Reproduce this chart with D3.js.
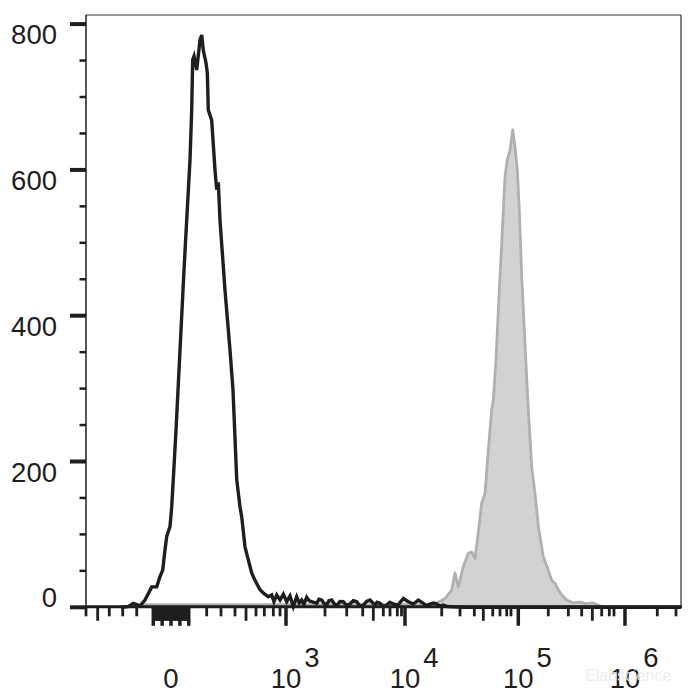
<!DOCTYPE html>
<html><head><meta charset="utf-8">
<script src="https://cdn.jsdelivr.net/npm/d3@7"></script>
<style>body{margin:0;background:#fff}</style>
</head><body>
<svg id="chart" width="700" height="700"></svg>
<script>
// ---- Data (x in display channels 0..1024 of the biexponential axis, y in counts) ----
const blackChannel = [60,72.3,81.4,92.9,101.5,113.1,121.7,127.4,132.0,136.0,138.9,144.6,147.5,150.2,154.9,161.8,168.7,173.3,179.0,181.9,183.6,185.9,190.5,196.2,199.1,201.9,206.5,208.8,210.5,216.3,222.0,224.9,227.7,230.6,239.2,247.8,253.0,259.4,265.0,268.0,273.6,279.3,285.2,290.8,299.5,306,313.7,319.6,323.5,328.2,333.9,339.6,345.4,351.1,356.8,362.6,367,371.2,375,379.8,384,388.4,397.0,401,405.6,409,414.3,418,422.9,427,431.5,437,442.8,448,454.3,460,465.9,471,477.2,483,488.8,497.4,501,506.0,512,517.5,523,528.9,537,546.1,554.8,563.3,571.9,580.5,586,592.0,598,603.6,609,614.9,621.3,650,1024];
const blackCount   = [0,1,5.5,2,10,28,28,42,51,79,97,111,138,175,243,353,463,531,614,682,751,756,737,778,785,764,747,733,682,668,600,573,583,531,435,353,298,175,138,124,83,65,47,37,24,19,14.5,17,7.7,17,10,18,7.7,15.5,1,14.5,6,10,4,13.7,9,7.7,5.5,11,10,6,3,9,10,5,2,8,7.7,3,4.5,9,7.7,2,3,8,10,3,7,5.5,1,3,7,4.5,3,12,7.7,4.5,10,5.5,2,4.5,6,4.5,1.5,3,1,0,0];

const grayChannel = [92.9,200,400,590,603.6,617.8,629.4,635.1,640.7,649.3,658.0,663.8,669.5,675.1,681.0,686.7,692.4,698.2,701.0,705.6,709.6,715.4,721.1,725.1,729.7,734.4,738.3,742.3,745.7,749.9,755.5,761.2,767.1,772.8,778.5,787.1,795.7,801.5,807.2,812.9,818.7,827.3,838.7,850.2,860.5,873.1,884.6,900];
const grayCount   = [3.5,3.5,3.5,3.5,5.5,12,24,47,28,56,74,76,67,102,143,156,216,271,284,339,408,499,591,614,627,655,632,600,545,453,362,271,193,156,111,69,51,37,33,24,17,10,6,7,5,6,2,0];

const yMajorTicks = [0,200,400,600,800];
const yTickLabels = ["0","200","400","600","800"];
const yMinorTicks = [50,100,150,250,300,350,450,500,550,650,700,750];

const xLabelTicks = [146.3,344.2,549.0,744.0,927.6];
const xLabelBase  = ["0","10","10","10","10"];
const xLabelExp   = ["","3","4","5","6"];
const xTicksLong   = [115.8,131.05,146.3,161.55,176.8,344.2,549.0,744.0,927.6];
const xTicksMedium = [20.1,118.85,121.9,124.95,128.0,134.1,137.15,140.2,143.25,149.35,152.4,155.45,158.5,164.6,167.65,170.7,173.75,275.4,494.5,683.8,871.4];
const xTicksShort  = [0,40.1,63.2,87.3,207.7,232.3,256.4,292.6,306.9,322.4,333.9,411.3,448.7,476.2,511.7,523.2,535.8,543,612.2,643.7,668.3,700.0,712.5,724.1,731.4,795.6,830.1,853.1,887.5,900.6,908.7,983.2,1015.4];

// ---- Layout ----
const svg = d3.select("#chart");
const plotL = 86, plotR = 681, plotT = 15, plotB = 607.3;
const x = d3.scaleLinear().domain([0,1024]).range([plotL,plotR]);
const y = d3.scaleLinear().domain([0,812.5]).range([plotB,plotT]);
const font = "'Liberation Sans', Arial, Helvetica, sans-serif";
const ink = "#1e1e1e";

svg.append("rect").attr("width",700).attr("height",700).attr("fill","#fff");

// gray filled histogram
const grayData = grayChannel.map((c,i)=>[c,grayCount[i]]);
svg.append("path").datum(grayData)
  .attr("d", d3.area().x(d=>x(d[0])).y0(y(0)).y1(d=>y(d[1])))
  .attr("fill","#d2d2d2");
svg.append("path").datum(grayData)
  .attr("d", d3.line().x(d=>x(d[0])).y(d=>y(d[1])))
  .attr("fill","none").attr("stroke","#b0b0b0").attr("stroke-width",2.8).attr("stroke-linejoin","round");

// black line histogram
const blackData = blackChannel.map((c,i)=>[c,blackCount[i]]);
svg.append("path").datum(blackData)
  .attr("d", d3.line().x(d=>x(d[0])).y(d=>y(d[1])))
  .attr("fill","none").attr("stroke",ink).attr("stroke-width",3.4).attr("stroke-linejoin","miter");

// frame
svg.append("line").attr("x1",plotL).attr("x2",plotR).attr("y1",plotT).attr("y2",plotT).attr("stroke","#333").attr("stroke-width",1);
svg.append("line").attr("x1",plotR).attr("x2",plotR).attr("y1",plotT).attr("y2",plotB).attr("stroke","#333").attr("stroke-width",1.2);
svg.append("line").attr("x1",plotL).attr("x2",plotL).attr("y1",plotT).attr("y2",plotB).attr("stroke",ink).attr("stroke-width",1.5);
svg.append("line").attr("x1",plotL).attr("x2",plotR+1).attr("y1",plotB-0.6).attr("y2",plotB-0.6).attr("stroke",ink).attr("stroke-width",3);

// y ticks
const gy = svg.append("g");
gy.selectAll(".ymaj").data(yMajorTicks).enter().append("line")
  .attr("x1",70).attr("x2",plotL).attr("y1",d=>y(d)).attr("y2",d=>y(d))
  .attr("stroke",ink).attr("stroke-width",4);
gy.selectAll(".ymin").data(yMinorTicks).enter().append("line")
  .attr("x1",79.5).attr("x2",plotL).attr("y1",d=>y(d)).attr("y2",d=>y(d))
  .attr("stroke",ink).attr("stroke-width",2.5);
gy.selectAll(".ylab").data(yMajorTicks).enter().append("text")
  .attr("x",57).attr("y",d=>d===0 ? y(d) : y(d)+20)
  .attr("text-anchor","end").attr("font-family",font).attr("font-size",27.5)
  .attr("fill",ink).text((d,i)=>yTickLabels[i]);

// x ticks
const axisY = plotB - 0.5;
const gx = svg.append("g");
function drawTicks(vals, len, w){
  gx.selectAll(null).data(vals).enter().append("line")
    .attr("x1",d=>x(d)).attr("x2",d=>x(d)).attr("y1",axisY).attr("y2",axisY+len)
    .attr("stroke",ink).attr("stroke-width",w);
}
drawTicks(xTicksShort, 9.5, 2.8);
drawTicks(xTicksMedium, 14, 2.8);
drawTicks(xTicksLong, 19, 3.5);

// x labels
xLabelTicks.forEach((t,i)=>{
  const tx = gx.append("text").attr("x",x(t)).attr("y",688)
    .attr("text-anchor","middle").attr("font-family",font).attr("font-size",27.5)
    .attr("fill",ink).text(xLabelBase[i]);
  if(xLabelExp[i]){
    const bb = tx.node().getBBox();
    gx.append("text").attr("x",bb.x+bb.width+3).attr("y",667)
      .attr("font-family",font).attr("font-size",27.5).attr("fill",ink).text(xLabelExp[i]);
  }
});

// watermark (faint, overlaps the 10^6 label as in the reference)
svg.append("text").attr("x",585).attr("y",681).attr("font-family",font).attr("font-size",16)
  .attr("fill","#ececec").attr("opacity",0.9).text("Elabscience");
</script>
</body></html>
